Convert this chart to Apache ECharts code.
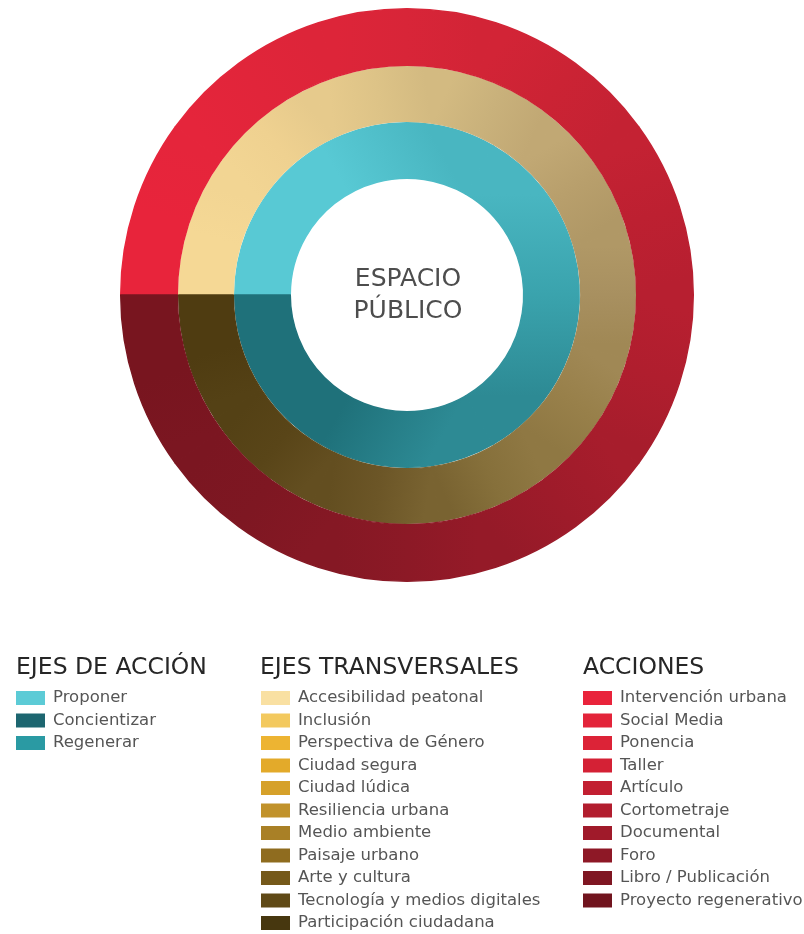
<!DOCTYPE html>
<html>
<head>
<meta charset="utf-8">
<script src="https://cdn.jsdelivr.net/npm/echarts@6/dist/echarts.min.js"></script>
<style>
html,body{margin:0;padding:0;background:#fff;}
#chart{width:804px;height:934px;}
</style>
</head>
<body>
<div id="chart"></div>
<script>
// ---- Data ----
const centerText = 'ESPACIO\nPÚBLICO';

const accionTitle = 'EJES DE ACCIÓN';
const accionCategories = ['Proponer', 'Regenerar', 'Concientizar'];   // ring order (clockwise from 9 o'clock)
const accionValues = [1, 1, 1];
const accionLegendOrder = ['Proponer', 'Concientizar', 'Regenerar'];
const accionRingColors = ['#58c9d4', '#3aa3ad', '#1f717a'];
const accionLegendColors = {Proponer: '#5ccbd6', Concientizar: '#1d6670', Regenerar: '#2a9aa3'};

const transTitle = 'EJES TRANSVERSALES';
const transCategories = ['Accesibilidad peatonal', 'Inclusión', 'Perspectiva de Género', 'Ciudad segura',
  'Ciudad lúdica', 'Resiliencia urbana', 'Medio ambiente', 'Paisaje urbano', 'Arte y cultura',
  'Tecnología y medios digitales', 'Participación ciudadana'];
const transValues = [1, 1, 1, 1, 1, 1, 1, 1, 1, 1, 1];
const transRingColors = ['#f5d895', '#efd190', '#ddc387', '#c9b17b', '#b89f6c', '#a89060',
  '#98804a', '#86703b', '#6c5627', '#594518', '#4f3c11'];
const transLegendColors = ['#f9e0a2', '#f3c95e', '#edb432', '#e3aa2a', '#d6a12a', '#c1922b',
  '#a98026', '#8f6c1f', '#75591a', '#5f4916', '#47370f'];

const accionesTitle = 'ACCIONES';
const accionesCategories = ['Intervención urbana', 'Social Media', 'Ponencia', 'Taller', 'Artículo',
  'Cortometraje', 'Documental', 'Foro', 'Libro / Publicación', 'Proyecto regenerativo'];
const accionesValues = [1, 1, 1, 1, 1, 1, 1, 1, 1, 1];
const accionesRingColors = ['#e8243b', '#e1253a', '#d82538', '#cb2334', '#bd2031', '#b01e2e',
  '#9e1b2a', '#8c1926', '#7e1722', '#78151f'];
const accionesLegendColors = ['#e9233b', '#e3243a', '#dc2337', '#d42135', '#c21f31', '#b21d2e',
  '#a01a2a', '#8e1826', '#7f1622', '#71141e'];

// ---- Layout / style ----
const CX = 407, CY = 295;
const FONT = 'DejaVu Sans';

function hex2rgb(h) { h = h.replace('#', ''); return [0, 2, 4].map(i => parseInt(h.substr(i, 2), 16)); }
function mix(a, b) {
  const A = hex2rgb(a), B = hex2rgb(b);
  return 'rgb(' + A.map((v, i) => Math.round((v + B[i]) / 2)).join(',') + ')';
}

// Each slice gets a gradient along its arc so the ring reads as one smooth sweep.
function ringData(names, values, colors, r0, r1) {
  const total = values.reduce((s, v) => s + v, 0);
  const rm = (r0 + r1) / 2;
  const flat = (r1 - r0) / (4 * rm);
  let acc = 0;
  return names.map((name, k) => {
    const a0 = (180 - acc / total * 360) * Math.PI / 180;
    acc += values[k];
    const a1 = (180 - acc / total * 360) * Math.PI / 180;
    const n = names.length;
    const c0 = k === 0 ? colors[0] : mix(colors[k - 1], colors[k]);
    const c1 = k === n - 1 ? colors[n - 1] : mix(colors[k], colors[k + 1]);
    const grad = {
      type: 'linear', global: true,
      x: CX + rm * Math.cos(a0), y: CY - rm * Math.sin(a0),
      x2: CX + rm * Math.cos(a1), y2: CY - rm * Math.sin(a1),
      colorStops: [
        {offset: 0, color: c0}, {offset: flat, color: c0},
        {offset: 0.5, color: colors[k]},
        {offset: 1 - flat, color: c1}, {offset: 1, color: c1}
      ]
    };
    return {name: name, value: values[k], itemStyle: {color: grad, borderColor: grad, borderWidth: 1.4}};
  });
}

function pie(name, data, r0, r1) {
  return {
    type: 'pie', name: name, center: [CX, CY], radius: [r0, r1],
    startAngle: 180, clockwise: true, avoidLabelOverlap: false,
    label: {show: false}, labelLine: {show: false},
    emphasis: {disabled: true}, silent: true,
    data: data
  };
}

function legend(left, names, colorOf) {
  return {
    orient: 'vertical', left: left, top: 689.5, height: 300, padding: 0,
    itemWidth: 29, itemHeight: 14, itemGap: 5.5, icon: 'rect',
    selectedMode: false,
    textStyle: {fontFamily: FONT, fontSize: 16.5, lineHeight: 16, color: '#555555', padding: [0, 0, 0, 3]},
    data: names.map((n, i) => ({name: n, itemStyle: {color: colorOf(n, i), borderWidth: 0}}))
  };
}

const titleStyle = {fontFamily: FONT, fontSize: 23.5, fontWeight: 'normal', color: '#262626'};

const option = {
  animation: false,
  backgroundColor: '#ffffff',
  title: [
    {text: accionTitle, left: 16, top: 656, padding: 0, textStyle: titleStyle},
    {text: transTitle, left: 260, top: 656, padding: 0, textStyle: titleStyle},
    {text: accionesTitle, left: 583, top: 656, padding: 0, textStyle: titleStyle}
  ],
  legend: [
    legend(16, accionLegendOrder, n => accionLegendColors[n]),
    legend(261, transCategories, (n, i) => transLegendColors[i]),
    legend(583, accionesCategories, (n, i) => accionesLegendColors[i])
  ],
  graphic: [{
    type: 'text', x: CX + 1, y: CY,
    style: {
      text: centerText, font: '25px "DejaVu Sans"', fill: '#4d4d4d',
      align: 'center', verticalAlign: 'middle', lineHeight: 32
    }
  }],
  series: [
    pie('Ejes de acción', ringData(accionCategories, accionValues, accionRingColors, 116.7, 172.3), 116.7, 172.3),
    pie('Ejes transversales', ringData(transCategories, transValues, transRingColors, 173.7, 228.3), 173.7, 228.3),
    pie('Acciones', ringData(accionesCategories, accionesValues, accionesRingColors, 229.7, 286.3), 229.7, 286.3)
  ]
};

const chart = echarts.init(document.getElementById('chart'), null, {renderer: 'canvas'});
chart.setOption(option);
</script>
</body>
</html>
